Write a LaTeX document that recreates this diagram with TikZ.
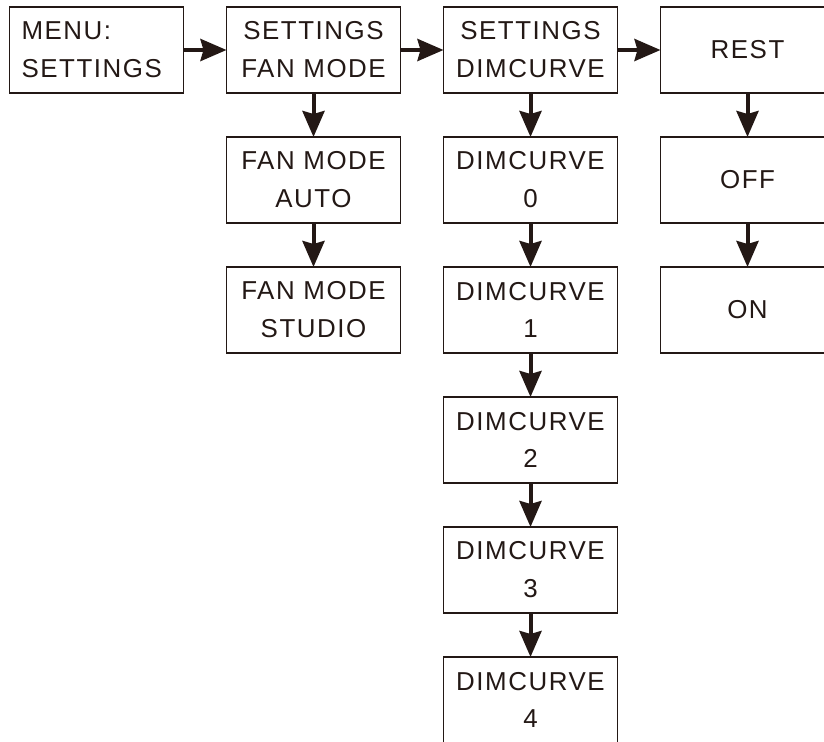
\documentclass[tikz,border=0pt]{standalone}
\usepackage{fontspec}
\usepackage{tikz}
\usetikzlibrary{positioning,arrows.meta}
\setmainfont[LetterSpace=6]{Liberation Sans}
\definecolor{inkdark}{HTML}{231815}

\begin{document}
\begin{tikzpicture}[
  node distance=44bp and 43bp,
  box/.style={draw=inkdark, line width=1.6bp, text=inkdark, minimum width=174bp, minimum height=86bp,
    inner sep=0pt, outer sep=0pt, text width=174bp, align=center, font=\fontsize{26}{38}\selectfont},
  arr/.style={draw=inkdark, line width=4bp, -{Stealth[length=26bp, width=22bp, inset=3bp]}}
]
\useasboundingbox (0,0) rectangle (824bp,-742bp);
\node[box, text width=150bp, inner xsep=12bp, align=left] (menu) at (96.5bp,-50bp) {MENU:\\SETTINGS};
\node[box, right=of menu] (setfan) {SETTINGS\\FAN MODE};
\node[box, right=of setfan] (setdim) {SETTINGS\\DIMCURVE};
\node[box, right=of setdim] (rest) {REST};
% fan mode column
\node[box, below=of setfan] (fanauto) {FAN MODE\\AUTO};
\node[box, below=of fanauto] (fanstudio) {FAN MODE\\STUDIO};
% dimcurve column
\node[box, below=of setdim] (dim0) {DIMCURVE\\0};
\node[box, below=of dim0] (dim1) {DIMCURVE\\1};
\node[box, below=of dim1] (dim2) {DIMCURVE\\2};
\node[box, below=of dim2] (dim3) {DIMCURVE\\3};
\node[box, below=of dim3] (dim4) {DIMCURVE\\4};
% rest column
\node[box, below=of rest] (restoff) {OFF};
\node[box, below=of restoff] (reston) {ON};

\draw[arr] (menu) -- (setfan);
\draw[arr] (setfan) -- (setdim);
\draw[arr] (setdim) -- (rest);
\draw[arr] (setfan) -- (fanauto);
\draw[arr] (fanauto) -- (fanstudio);
\draw[arr] (setdim) -- (dim0);
\draw[arr] (dim0) -- (dim1);
\draw[arr] (dim1) -- (dim2);
\draw[arr] (dim2) -- (dim3);
\draw[arr] (dim3) -- (dim4);
\draw[arr] (rest) -- (restoff);
\draw[arr] (restoff) -- (reston);
\end{tikzpicture}
\end{document}
